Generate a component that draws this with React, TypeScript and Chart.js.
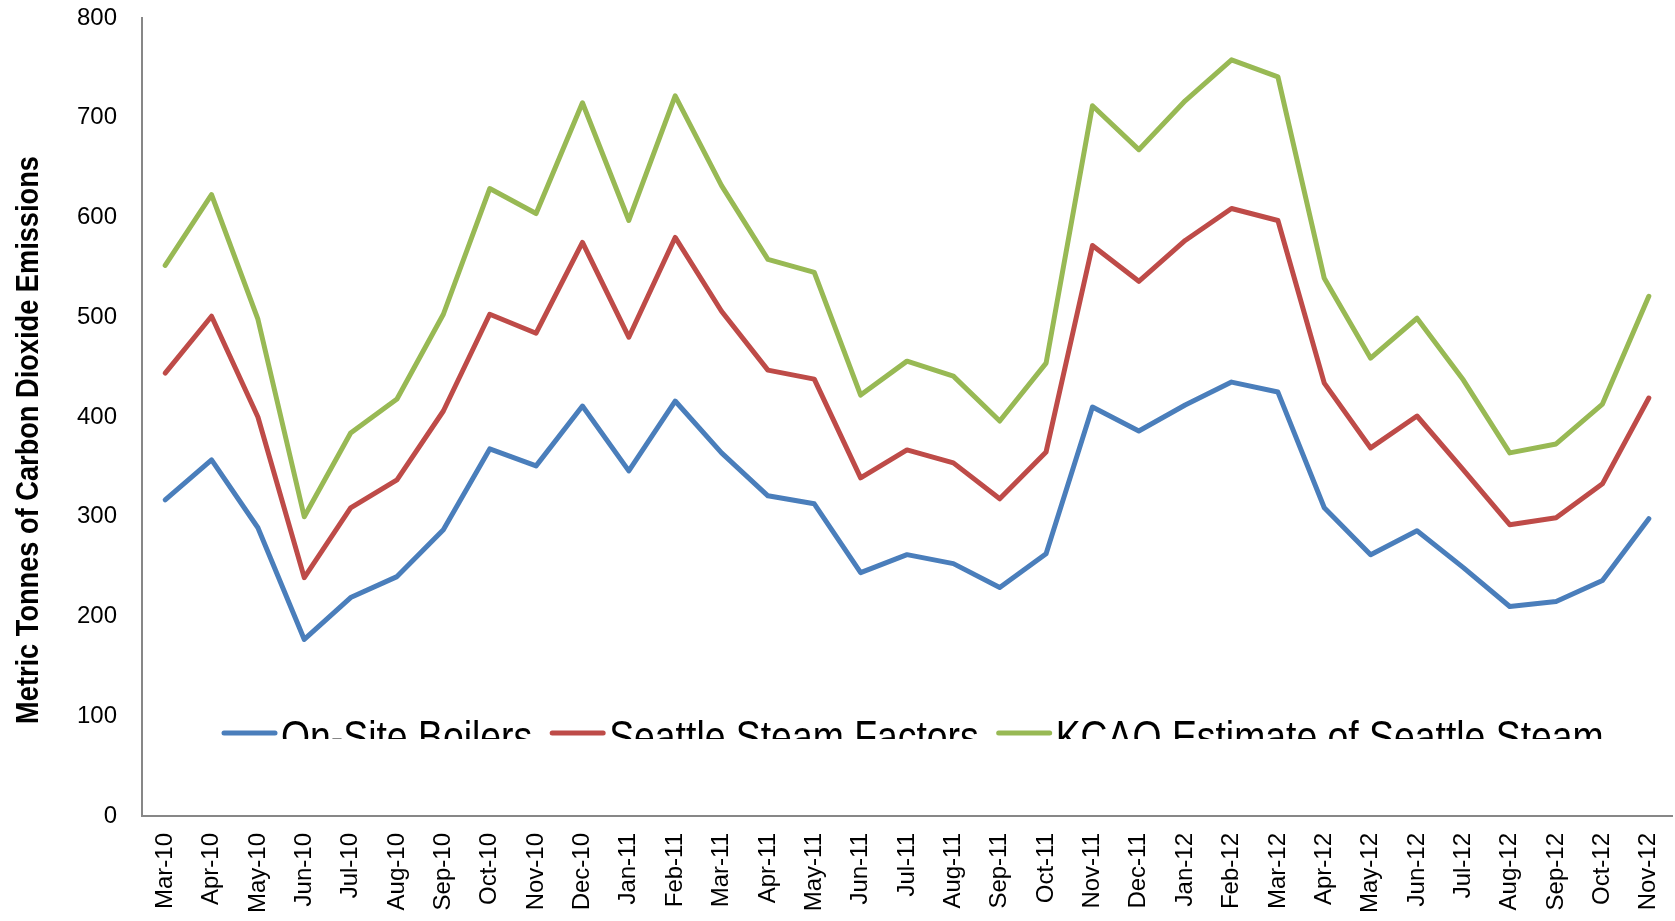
import { useEffect, useRef } from "react";
import { Chart, registerables } from "chart.js";

Chart.register(...registerables);

const months = [
  "Mar-10", "Apr-10", "May-10", "Jun-10", "Jul-10", "Aug-10", "Sep-10", "Oct-10", "Nov-10", "Dec-10",
  "Jan-11", "Feb-11", "Mar-11", "Apr-11", "May-11", "Jun-11", "Jul-11", "Aug-11", "Sep-11", "Oct-11", "Nov-11", "Dec-11",
  "Jan-12", "Feb-12", "Mar-12", "Apr-12", "May-12", "Jun-12", "Jul-12", "Aug-12", "Sep-12", "Oct-12", "Nov-12",
];

const onSiteBoilers = [
  317, 357, 289, 177, 219, 240, 287, 368, 351, 411,
  346, 416, 364, 321, 313, 244, 262, 253, 229, 263, 410, 386,
  412, 435, 425, 309, 262, 286, 249, 210, 215, 236, 298,
];

const seattleSteamFactors = [
  444, 501, 400, 239, 309, 337, 406, 503, 484, 575,
  480, 580, 506, 447, 438, 339, 367, 354, 318, 365, 572, 536,
  577, 609, 597, 434, 369, 401, 347, 292, 299, 333, 419,
];

const kcaoEstimate = [
  552, 623, 498, 300, 384, 418, 503, 629, 604, 715,
  597, 722, 632, 558, 545, 422, 456, 441, 396, 454, 712, 668,
  717, 758, 741, 539, 459, 499, 437, 364, 373, 413, 521,
];

const seriesNames = ["On-Site Boilers", "Seattle Steam Factors", "KCAO Estimate of Seattle Steam"];
const seriesColors = ["#4A7EBB", "#BE4B48", "#98B954"];
const yAxisTitle = "Metric Tonnes of Carbon Dioxide Emissions";
const yMin = 0;
const yMax = 800;
const yStep = 100;

const FONT = "'Liberation Sans', Arial, sans-serif";

const overlayPlugin = {
  id: "overlayText",
  afterDraw(chart: any) {
    const ctx: CanvasRenderingContext2D = chart.ctx;
    // Y axis title (condensed bold)
    ctx.save();
    ctx.translate(38, 440);
    ctx.rotate(-Math.PI / 2);
    ctx.scale(0.85, 1);
    ctx.font = `bold 32px ${FONT}`;
    ctx.fillStyle = "#000";
    ctx.textAlign = "center";
    ctx.textBaseline = "alphabetic";
    ctx.fillText(yAxisTitle, 0, 0);
    ctx.restore();

    // Legend, clipped at the bottom like the reference
    ctx.save();
    ctx.beginPath();
    ctx.rect(0, 0, chart.width, 739);
    ctx.clip();
    ctx.font = `45px ${FONT}`;
    ctx.textBaseline = "alphabetic";
    ctx.textAlign = "left";
    const sx = 0.83;
    let x = 222;
    const lineY = 733;
    seriesNames.forEach((name, i) => {
      ctx.strokeStyle = seriesColors[i];
      ctx.lineWidth = 5;
      ctx.lineCap = "round";
      ctx.beginPath();
      ctx.moveTo(x + 2, lineY);
      ctx.lineTo(x + 53, lineY);
      ctx.stroke();
      const tx = x + 59;
      const w = ctx.measureText(name).width * sx;
      ctx.save();
      ctx.translate(tx, 752);
      ctx.scale(sx, 1);
      ctx.fillStyle = "#000";
      ctx.fillText(name, 0, 0);
      ctx.restore();
      x = tx + w + 18;
    });
    ctx.restore();
  },
};

function zeroPadding(scale: any) {
  scale.paddingTop = 0;
  scale.paddingBottom = 0;
  scale.paddingLeft = 0;
  scale.paddingRight = 0;
}

export default function App() {
  const canvasRef = useRef<HTMLCanvasElement | null>(null);

  useEffect(() => {
    if (!canvasRef.current) return;
    const seriesData = [onSiteBoilers, seattleSteamFactors, kcaoEstimate];
    const chart = new Chart(canvasRef.current, {
      type: "line",
      data: {
        labels: months,
        datasets: seriesNames.map((name, i) => ({
          label: name,
          data: seriesData[i],
          borderColor: seriesColors[i],
          backgroundColor: seriesColors[i],
          borderWidth: 5,
          pointRadius: 0,
          pointHoverRadius: 0,
          tension: 0,
          fill: false,
          borderCapStyle: "round",
          borderJoinStyle: "round",
        })),
      },
      options: {
        responsive: false,
        animation: false,
        devicePixelRatio: 1,
        layout: { padding: { top: 18, right: 3, left: 0, bottom: 0 } },
        plugins: {
          legend: { display: false },
          tooltip: { enabled: false },
          title: { display: false },
        },
        scales: {
          x: {
            type: "category",
            offset: true,
            grid: { display: false, drawTicks: false },
            border: { display: true, color: "#878787", width: 2 },
            ticks: {
              autoSkip: false,
              maxRotation: 90,
              minRotation: 90,
              padding: 17,
              color: "#000",
              font: { family: FONT, size: 24 },
            },
            afterFit(scale: any) {
              scale.height = 105;
              zeroPadding(scale);
            },
          },
          y: {
            min: yMin,
            max: yMax,
            grid: { display: false, drawTicks: false },
            border: { display: true, color: "#878787", width: 2 },
            ticks: {
              stepSize: yStep,
              padding: 25,
              color: "#000",
              font: { family: FONT, size: 24 },
            },
            afterFit(scale: any) {
              scale.width = 142;
              zeroPadding(scale);
            },
          },
        },
      },
      plugins: [overlayPlugin],
    } as any);
    return () => chart.destroy();
  }, []);

  return (
    <div style={{ position: "absolute", left: 0, top: 0, width: 1675, height: 921, background: "#fff" }}>
      <canvas ref={canvasRef} width={1675} height={921} style={{ display: "block" }} />
    </div>
  );
}
